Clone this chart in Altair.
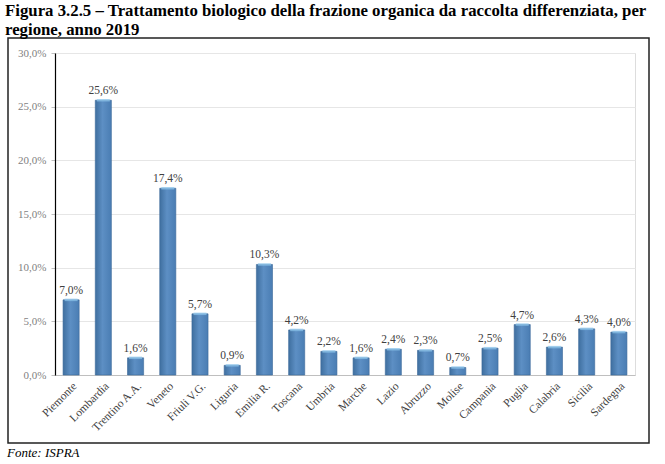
import altair as alt
import pandas as pd

regions = ["Piemonte", "Lombardia", "Trentino A.A.", "Veneto", "Friuli V.G.", "Liguria",
           "Emilia R.", "Toscana", "Umbria", "Marche", "Lazio", "Abruzzo", "Molise",
           "Campania", "Puglia", "Calabria", "Sicilia", "Sardegna"]
values = [7.0, 25.6, 1.6, 17.4, 5.7, 0.9, 10.3, 4.2, 2.2, 1.6, 2.4, 2.3, 0.7,
          2.5, 4.7, 2.6, 4.3, 4.0]
y_ticks = [0, 5, 10, 15, 20, 25, 30]

df = pd.DataFrame({"regione": regions, "valore": values})
df["label"] = [f"{v:.1f}".replace(".", ",") + "%" for v in values]
one = pd.DataFrame({"k": [0]})

W, H = 580, 322
FONT = "Liberation Serif"

x = alt.X("regione:N", sort=regions, title=None,
          scale=alt.Scale(paddingInner=0.5, paddingOuter=0.25),
          axis=alt.Axis(labelAngle=315, labelAlign="right", labelBaseline="top",
                        labelFont=FONT, labelFontSize=11.5, labelColor="#404040",
                        domainColor="#bfbfbf", ticks=False, labelPadding=5))
y = alt.Y("valore:Q", title=None,
          scale=alt.Scale(domain=[0, 30], nice=False),
          axis=alt.Axis(values=y_ticks, labelFont=FONT, labelFontSize=11,
                        labelColor="#7f7f7f", domainColor="#000000", domainWidth=1.2,
                        gridColor="#e6e6e6", tickColor="#bfbfbf", tickSize=4,
                        labelPadding=5,
                        labelExpr="replace(format(datum.value, '.1f'), '.', ',') + '%'"))

bars = alt.Chart(df).mark_bar(
    color=alt.Gradient(
        gradient="linear", x1=0, x2=1, y1=0, y2=0,
        stops=[alt.GradientStop(color="#3f6f9f", offset=0),
               alt.GradientStop(color="#5d8fc4", offset=0.45),
               alt.GradientStop(color="#4a7db3", offset=1)]),
    stroke="#3a6898", strokeWidth=0.6
).encode(x=x, y=y)

tops = alt.Chart(df).mark_tick(color="#8fc8ee", thickness=2.5, size=13).encode(
    x=alt.X("regione:N", sort=regions), y="valore:Q")

labels = alt.Chart(df).mark_text(
    dy=-9, font=FONT, fontSize=11.5, color="#404040"
).encode(x=alt.X("regione:N", sort=regions), y="valore:Q", text="label:N")

frame = alt.Chart(one).mark_rect(fill=None, stroke="#222222", strokeWidth=1.5).encode(
    x=alt.value(-47), x2=alt.value(594), y=alt.value(-15), y2=alt.value(H + 68))

fonte = alt.Chart(one).mark_text(
    text="Fonte: ISPRA", font=FONT, fontStyle="italic", fontSize=13, align="left",
    baseline="alphabetic", color="#000000"
).encode(x=alt.value(-48), y=alt.value(H + 82))

chart = alt.layer(frame, bars, tops, labels, fonte).properties(
    width=W, height=H,
    autosize=alt.AutoSizeParams(type="none"),
    padding={"left": 55, "top": 53, "right": 30, "bottom": 89},
    title=alt.Title(
        ["Figura 3.2.5 – Trattamento biologico della frazione organica da raccolta differenziata, per",
         "regione, anno 2019"],
        anchor="start", frame="group", dx=-50, offset=-2, font=FONT, fontSize=16.8,
        fontWeight="bold", color="#000000", lineHeight=19),
).configure_view(stroke="#d9d9d9", strokeWidth=1).configure(background="white")

chart.save("out.html", embed_options={"renderer": "svg", "actions": False})
